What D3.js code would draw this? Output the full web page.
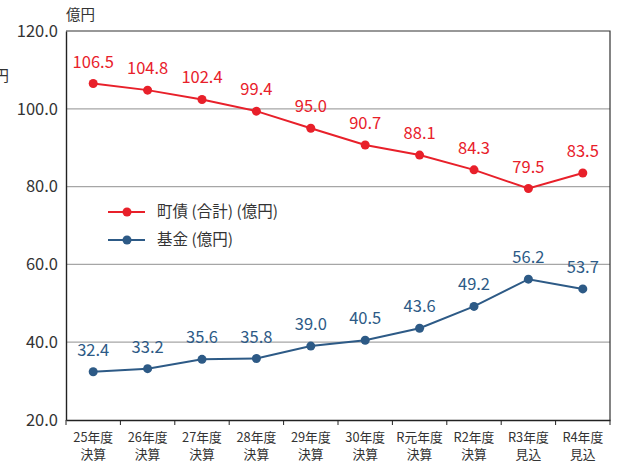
<!DOCTYPE html>
<html>
<head>
<meta charset="utf-8">
<script src="https://cdn.jsdelivr.net/npm/d3@7"></script>
<style>
  body { margin: 0; background: #fff; }
  svg { font-family: "Noto Sans CJK JP", "Noto Sans", sans-serif; }
</style>
</head>
<body>
<svg id="chart" width="619" height="461"></svg>
<script>
// data
const years = ["25年度", "26年度", "27年度", "28年度", "29年度", "30年度", "R元年度", "R2年度", "R3年度", "R4年度"];
const kinds = ["決算", "決算", "決算", "決算", "決算", "決算", "決算", "決算", "見込", "見込"];
const debt = [106.5, 104.8, 102.4, 99.4, 95.0, 90.7, 88.1, 84.3, 79.5, 83.5];
const fund = [32.4, 33.2, 35.6, 35.8, 39.0, 40.5, 43.6, 49.2, 56.2, 53.7];
const yTicks = [20, 40, 60, 80, 100, 120];

const red = "#e8202a";
const blue = "#2d5a86";

const svg = d3.select("#chart");
const plotL = 66, plotR = 610, plotT = 31, plotB = 420;

let x = d3.scaleBand().domain(d3.range(years.length)).range([plotL, plotR]).padding(0);
let y = d3.scaleLinear().domain([20, 120]).range([plotB, plotT]);

// grid
svg.append("g").selectAll("line")
    .data(yTicks.slice(1, -1))
    .enter()
    .append("line")
    .attr("x1", plotL).attr("x2", plotR)
    .attr("y1", d => y(d)).attr("y2", d => y(d))
    .attr("stroke", "#a6a6a6")
    .attr("stroke-width", 1.2);

// frame top / right
svg.append("path")
    .attr("d", `M${plotL},${plotT} H${plotR} V${plotB}`)
    .attr("fill", "none")
    .attr("stroke", "#333")
    .attr("stroke-width", 1.2);

// y axis
let yAxis = svg.append("g")
    .attr("transform", `translate(${plotL},0)`)
    .call(d3.axisLeft(y).tickValues(yTicks).tickSize(0).tickPadding(8).tickFormat(d3.format(".1f")));
yAxis.attr("font-family", null);
yAxis.select(".domain").attr("stroke", "#222").attr("stroke-width", 1.4);
yAxis.selectAll("text").attr("font-size", 16.5).attr("fill", "#333");

// x axis
let xAxis = svg.append("g")
    .attr("transform", `translate(0,${plotB})`)
    .call(d3.axisBottom(x).tickValues([]).tickSizeOuter(0));
xAxis.attr("font-family", null);
xAxis.select(".domain").attr("stroke", "#222").attr("stroke-width", 1.4);
// tick marks at band boundaries
xAxis.selectAll("line.bt")
    .data(d3.range(years.length + 1))
    .enter()
    .append("line")
    .attr("class", "bt")
    .attr("x1", d => plotL + d * x.step()).attr("x2", d => plotL + d * x.step())
    .attr("y1", 0).attr("y2", 5)
    .attr("stroke", "#222");
// two label rows, kept as separate texts
xAxis.selectAll("text.xl1")
    .data(years)
    .enter()
    .append("text")
    .attr("class", "xl1")
    .attr("x", (d, i) => x(i) + x.bandwidth() / 2)
    .attr("y", 22)
    .attr("text-anchor", "middle")
    .attr("font-size", 12.8)
    .attr("fill", "#333")
    .text(d => d);
xAxis.selectAll("text.xl2")
    .data(kinds)
    .enter()
    .append("text")
    .attr("class", "xl2")
    .attr("x", (d, i) => x(i) + x.bandwidth() / 2)
    .attr("y", 39)
    .attr("text-anchor", "middle")
    .attr("font-size", 12.8)
    .attr("fill", "#333")
    .text(d => d);

// unit labels
svg.append("text").attr("x", 66).attr("y", 20).attr("font-size", 14.5).attr("fill", "#333").text("億円");
svg.append("text").attr("x", 9).attr("y", 81).attr("text-anchor", "end").attr("font-size", 15).attr("fill", "#333").text("億円");

// series
function drawSeries(vals, color) {
    let line = d3.line().x((d, i) => x(i) + x.bandwidth() / 2).y(d => y(d));
    let g = svg.append("g");
    g.append("path")
        .datum(vals)
        .attr("d", line)
        .attr("fill", "none")
        .attr("stroke", color)
        .attr("stroke-width", 2);
    g.selectAll("circle")
        .data(vals)
        .enter()
        .append("circle")
        .attr("cx", (d, i) => x(i) + x.bandwidth() / 2)
        .attr("cy", d => y(d))
        .attr("r", 4.5)
        .attr("fill", color);
    g.selectAll("text")
        .data(vals)
        .enter()
        .append("text")
        .attr("x", (d, i) => x(i) + x.bandwidth() / 2)
        .attr("y", d => y(d) - 16)
        .attr("text-anchor", "middle")
        .attr("font-size", 16.5)
        .attr("fill", color)
        .text(d => d.toFixed(1));
}
drawSeries(debt, red);
drawSeries(fund, blue);

// legend
let legend = [{name: "町債 (合計) (億円)", color: red}, {name: "基金 (億円)", color: blue}];
let lg = svg.append("g").selectAll("g")
    .data(legend)
    .enter()
    .append("g")
    .attr("transform", (d, i) => `translate(108,${212 + i * 28})`);
lg.append("line").attr("x1", 0).attr("x2", 37).attr("stroke", d => d.color).attr("stroke-width", 2);
lg.append("circle").attr("cx", 19).attr("r", 4.5).attr("fill", d => d.color);
lg.append("text").attr("x", 49).attr("dy", "0.35em").attr("font-size", 15.5).attr("fill", "#333").text(d => d.name);
</script>
</body>
</html>
